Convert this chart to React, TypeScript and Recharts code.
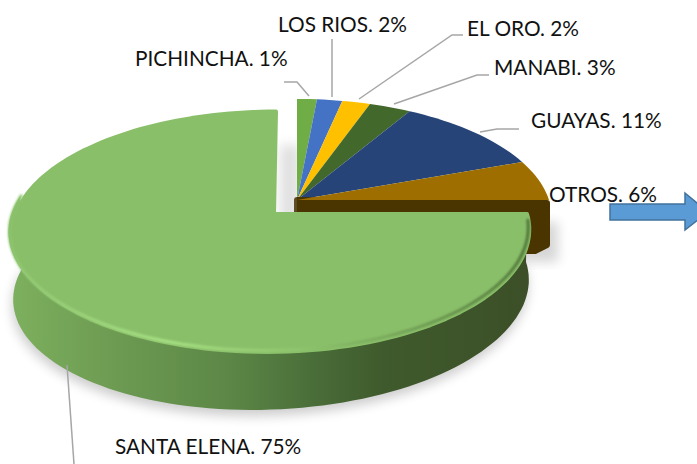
import { Pie, PieChart } from "recharts"

const names = ["PICHINCHA", "LOS RIOS", "EL ORO", "MANABI", "GUAYAS", "OTROS", "SANTA ELENA"]
const shares = [1.45, 1.85, 2.05, 3.05, 11, 5.6, 75]
const sliceColors = ["#70AD47", "#4472C4", "#FFC000", "#43682B", "#264478", "#9E6F00", "#8ABF69"]

const data = names.map((name, i) => ({ name, value: shares[i], fill: sliceColors[i] }))

// label anchor and leader line for each slice, same order as names
const labelSpots = [
  { x: 135, y: 66, line: "284,82 297,82 309,96" },
  { x: 278, y: 32, line: "332,39 332,97" },
  { x: 467, y: 36, line: "463,35 452,35 359,99" },
  { x: 494, y: 75, line: "489,75 477,75 394,104" },
  { x: 531, y: 128, line: "519,129 497,129 480,132" },
  { x: 549, y: 202, line: "" },
  { x: 115, y: 454, line: "67,365 74,464" },
]

const TILT = 0.46
const PERSP = 0.1475
const RAD = Math.PI / 180

type Warp = { dx?: number; dxv?: number; dyu?: number }

// polar angle (recharts degrees) onto the tilted disc
const project = (deg: number, r: number, cx: number, cy: number, warp: Warp = {}) => {
  const t = (90 - deg) * RAD
  const u = Math.sin(t)
  const v = -Math.cos(t)
  const w = 1 - PERSP * v
  return [
    cx + (r * u) / w + (warp.dx ?? 0) + (warp.dxv ?? 0) * v,
    cy + (r * TILT * v) / w + (warp.dyu ?? 0) * u,
  ]
}

const rim = (from: number, to: number, r: number, cx: number, cy: number, warp?: Warp) => {
  const steps = Math.max(2, Math.ceil(Math.abs(to - from) / 2))
  const pts = []
  for (let i = 0; i <= steps; i++) {
    const p = project(from + ((to - from) * i) / steps, r, cx, cy, warp)
    pts.push(`${p[0].toFixed(1)},${p[1].toFixed(1)}`)
  }
  return pts
}

const TOP_WARP = { dx: -2.5, dxv: -4.5 }
const UNDER_WARP = { dx: -1, dyu: -10 }

const TiltedSlice = (props: any) => {
  const { cx, cy, outerRadius, startAngle, endAngle, fill, name } = props
  if (name === "SANTA ELENA") {
    const x = cx - 25
    const y = cy + 12
    const r = outerRadius * 1.022
    const rUnder = outerRadius * 1.012
    const wallEnd = startAngle - 188
    const top = rim(startAngle, wallEnd, r, x, y, TOP_WARP)
    const under = rim(startAngle, wallEnd, rUnder, x, y + 60, UNDER_WARP)
    const face = rim(startAngle, endAngle, r - 2, x + 2, y + 2, TOP_WARP)
    // side wall as separate quads so the left silhouette has no notch
    const wall = top
      .slice(0, -1)
      .map((p, i) => `M${p} L${top[i + 1]} L${under[i + 1]} L${under[i]} Z`)
      .join(" ")
    return (
      <g>
        <polygon points={rim(startAngle, wallEnd, rUnder, x - 1, y + 66, UNDER_WARP).join(" ")} fill="#000" opacity={0.2} filter="url(#soft)" />
        <g clipPath="url(#gap)">
          <rect x={280} y={145} width={20} height={75} fill="#999" opacity={0.3} filter="url(#soft)" />
        </g>
        <path d={wall} fill="url(#wall)" />
        <polygon
          points={`${x + 2},${y + 2} ${face.join(" ")}`}
          fill={fill}
          stroke={fill}
          strokeWidth={4}
          strokeLinejoin="round"
        />
        <polyline points={rim(startAngle - 4, wallEnd, r - 1, x, y, TOP_WARP).join(" ")} fill="none" stroke="url(#shine)" strokeWidth={3} strokeLinecap="round" filter="url(#edge)" />
      </g>
    )
  }
  const top = rim(startAngle, endAngle, outerRadius, cx, cy)
  return (
    <g>
      {name === "OTROS" && (
        <g>
          <rect x={500} y={222} width={58} height={40} fill="#000" opacity={0.16} filter="url(#soft)" />
          <polygon
            points={`${cx},${cy} ${cx + outerRadius - 2},${cy + 3} ${cx + outerRadius - 2},${cy + 45} ${cx + outerRadius - 14},${cy + 51} ${cx},${cy + 51}`}
            fill="#4A3400"
            stroke="#4A3400"
            strokeWidth={6}
            strokeLinejoin="round"
          />
        </g>
      )}
      <polygon points={`${cx},${cy} ${top.join(" ")}`} fill={fill} />
    </g>
  )
}

const renderLabel = (props: any) => {
  const spot = labelSpots[props.index]
  return (
    <g>
      {spot.line && <polyline points={spot.line} fill="none" stroke="#A6A6A6" strokeWidth={1.5} />}
      <text x={spot.x} y={spot.y} fill="#111" fontSize={20.8} fontFamily="Lato, sans-serif" textAnchor="start">
        {`${props.name}. ${Math.round(props.value)}%`}
      </text>
    </g>
  )
}

export default function App() {
  return (
    <div style={{ position: "absolute", left: 0, top: 0, width: 697, height: 464, overflow: "hidden", background: "#fff" }}>
      <PieChart width={697} height={464} margin={{ top: 0, right: 0, bottom: 0, left: 0 }}>
        <defs>
          <filter id="soft" x="-20%" y="-20%" width="140%" height="140%">
            <feGaussianBlur stdDeviation="6" />
          </filter>
          <filter id="edge" x="-5%" y="-5%" width="110%" height="110%">
            <feGaussianBlur stdDeviation="1.3" />
          </filter>
          <clipPath id="gap">
            <rect x={272} y={100} width={25} height={115} />
          </clipPath>
          <linearGradient id="wall" gradientUnits="userSpaceOnUse" x1="10" y1="0" x2="530" y2="0">
            <stop offset="0" stopColor="#7DB05E" />
            <stop offset="0.2" stopColor="#6D9B52" />
            <stop offset="0.42" stopColor="#5C8747" />
            <stop offset="0.6" stopColor="#486B37" />
            <stop offset="0.72" stopColor="#3F5A2C" />
            <stop offset="1" stopColor="#3C4F28" />
          </linearGradient>
          <linearGradient id="shine" gradientUnits="userSpaceOnUse" x1="10" y1="0" x2="530" y2="0">
            <stop offset="0" stopColor="#8FC670" />
            <stop offset="0.12" stopColor="#9AD27A" />
            <stop offset="0.3" stopColor="#A8E285" />
            <stop offset="0.55" stopColor="#8FC66E" />
            <stop offset="0.8" stopColor="#6D9B52" />
            <stop offset="1" stopColor="#4F7539" />
          </linearGradient>
        </defs>
        <Pie
          data={data}
          dataKey="value"
          nameKey="name"
          cx={297}
          cy={200}
          outerRadius={252}
          startAngle={90}
          endAngle={-270}
          stroke="none"
          isAnimationActive={false}
          shape={TiltedSlice}
          label={renderLabel}
          labelLine={false}
        />
      </PieChart>
      <svg width={697} height={464} style={{ position: "absolute", left: 0, top: 0, pointerEvents: "none" }}>
        <path d="M610,204 H685 V193 L708,212 L685,230 V220 H610 Z" fill="#5B9BD5" stroke="#41719C" strokeWidth={1.5} />
      </svg>
    </div>
  )
}
